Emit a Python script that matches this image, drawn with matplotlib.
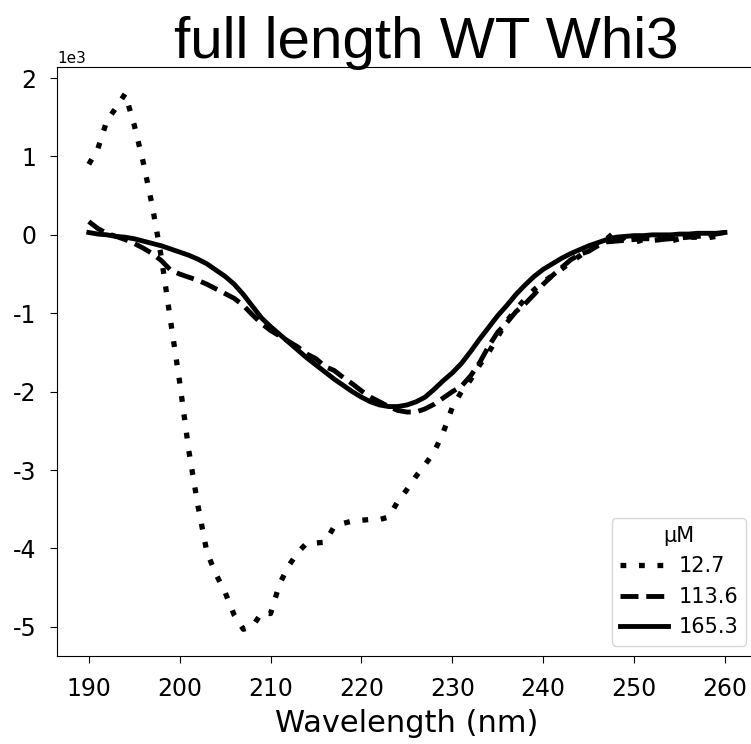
import matplotlib
matplotlib.use("Agg")
import matplotlib.pyplot as plt
import numpy as np

plt.rcParams['axes.unicode_minus'] = False

wavelength = list(range(190, 261))

# mean residue ellipticity, in units of 1e3
conc_12_7 = [0.90, 1.10, 1.46, 1.62, 1.80, 1.40, 0.92, 0.36, -0.30, -1.10,
             -1.88, -2.75, -3.45, -4.05, -4.33, -4.56, -4.85, -5.03, -5.00, -4.82,
             -4.83, -4.45, -4.22, -4.05, -3.93, -3.93, -3.92, -3.72, -3.68, -3.65,
             -3.64, -3.63, -3.63, -3.60, -3.40, -3.25, -3.08, -2.93, -2.77, -2.52,
             -2.20, -2.00, -1.85, -1.66, -1.50, -1.30, -1.10, -0.95, -0.82, -0.70,
             -0.60, -0.52, -0.44, -0.35, -0.27, -0.18, -0.12, -0.05, 0.05, -0.08,
             -0.10, -0.06, -0.07, -0.06, -0.08, -0.05, -0.03, -0.03, -0.04, -0.02,
             0.03]
conc_113_6 = [0.17, 0.08, 0.02, -0.02, -0.06, -0.11, -0.17, -0.24, -0.33, -0.45,
              -0.50, -0.54, -0.58, -0.63, -0.69, -0.75, -0.81, -0.90, -1.02, -1.13,
              -1.22, -1.29, -1.36, -1.43, -1.52, -1.58, -1.68, -1.73, -1.82, -1.90,
              -1.99, -2.07, -2.13, -2.19, -2.24, -2.26, -2.26, -2.22, -2.16, -2.08,
              -2.00, -1.93, -1.80, -1.63, -1.42, -1.24, -1.12, -0.98, -0.88, -0.76,
              -0.63, -0.52, -0.42, -0.32, -0.25, -0.21, -0.14, -0.09, -0.08, -0.07,
              -0.06, -0.05, -0.05, -0.06, -0.05, -0.04, -0.03, -0.02, -0.01, 0.01,
              0.03]
conc_165_3 = [0.03, 0.01, 0.00, -0.02, -0.03, -0.05, -0.08, -0.11, -0.14, -0.18,
              -0.22, -0.26, -0.31, -0.37, -0.45, -0.53, -0.63, -0.76, -0.91, -1.06,
              -1.17, -1.27, -1.37, -1.47, -1.57, -1.66, -1.75, -1.84, -1.92, -2.00,
              -2.07, -2.13, -2.17, -2.19, -2.19, -2.17, -2.13, -2.07, -1.97, -1.86,
              -1.76, -1.64, -1.49, -1.33, -1.18, -1.03, -0.90, -0.76, -0.64, -0.53,
              -0.44, -0.37, -0.30, -0.24, -0.19, -0.14, -0.10, -0.06, -0.03, -0.02,
              -0.01, -0.01, 0.00, 0.00, 0.00, 0.01, 0.01, 0.02, 0.02, 0.02,
              0.03]
labels = ['12.7', '113.6', '165.3']

fig = plt.figure(figsize=(7.51, 7.44), dpi=100)
ax = fig.add_axes([0.0759, 0.1183, 0.9318, 0.7917])

x = np.array(wavelength)
ax.plot(x, np.array(conc_12_7) * 1000, color='black', lw=3.8, dashes=(1.1, 2.4), label=labels[0])
ax.plot(x, np.array(conc_113_6) * 1000, color='black', lw=3.5, linestyle='--', label=labels[1])
ax.plot(x, np.array(conc_165_3) * 1000, color='black', lw=3.5, linestyle='-', label=labels[2])

ax.ticklabel_format(axis='y', style='sci', scilimits=(0, 0))
ax.yaxis.get_offset_text().set_fontsize(11)
ax.tick_params(labelsize=17, length=5, pad=10)
ax.set_xticks(range(190, 261, 10))
ax.set_xlabel('Wavelength (nm)', fontsize=22, labelpad=6)

fig.text(426 / 751, 0.922, 'full length WT Whi3', fontsize=42,
         family='Liberation Sans', ha='center', va='baseline')

ax.legend(title='\u03bcM', loc='lower right', fontsize=15, title_fontsize=15,
          handlelength=2.3, handletextpad=0.5)

plt.savefig('out.png', dpi=100)
